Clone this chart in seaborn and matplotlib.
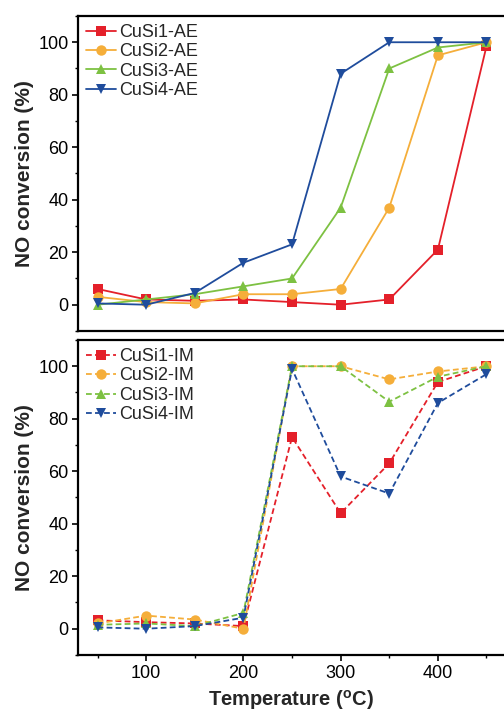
import numpy as np
import pandas as pd
import matplotlib
matplotlib.use("Agg")
import matplotlib.pyplot as plt
from matplotlib.ticker import MultipleLocator
import seaborn as sns

# Reaction temperatures (°C)
temperature = [50, 100, 150, 200, 250, 300, 350, 400, 450]

# NO conversion (%) for catalysts prepared by ammonia evaporation (AE)
cusi1_ae = [6, 2, 1.5, 2, 1, 0, 2, 21, 98.5]
cusi2_ae = [3, 1, 0.5, 4, 4, 6, 37, 95, 100]
cusi3_ae = [0, 2, 4, 7, 10, 37, 90, 98, 100]
cusi4_ae = [0.5, 0, 4.5, 16, 23, 88, 100, 100, 100]

# NO conversion (%) for catalysts prepared by impregnation (IM)
cusi1_im = [3.2, 2.5, 2, 1, 73, 44, 63, 94, 100]
cusi2_im = [2, 5, 3.5, 0, 100, 100, 95, 98, 100]
cusi3_im = [1.5, 2, 1, 6, 100, 100, 86.5, 96, 100]
cusi4_im = [0.5, 0, 1, 4.2, 99, 58, 51.5, 86, 97]

ae_labels = ["CuSi1-AE", "CuSi2-AE", "CuSi3-AE", "CuSi4-AE"]
im_labels = ["CuSi1-IM", "CuSi2-IM", "CuSi3-IM", "CuSi4-IM"]

colors = ["#E4202A", "#F5AE3A", "#7DC142", "#1F4C9C"]
markers = ["s", "o", "^", "v"]

sns.set_theme(style="ticks")
plt.rcParams["font.family"] = ["Liberation Sans", "DejaVu Sans"]
plt.rcParams["mathtext.fontset"] = "custom"
plt.rcParams["mathtext.rm"] = "Liberation Sans:bold"
plt.rcParams["mathtext.bf"] = "Liberation Sans:bold"

fig = plt.figure(figsize=(5.04, 7.11), dpi=100)
ax_top = fig.add_axes([0.155, 0.5345, 0.845, 0.443])
ax_bot = fig.add_axes([0.155, 0.0788, 0.845, 0.443])


def draw_panel(ax, series, labels, dashed):
    frames = []
    for lab, vals in zip(labels, series):
        frames.append(pd.DataFrame({"Temperature": temperature,
                                    "Conversion": vals,
                                    "Sample": lab}))
    df = pd.concat(frames, ignore_index=True)
    for lab, col, mk in zip(labels, colors, markers):
        sub = df[df["Sample"] == lab]
        sns.lineplot(data=sub, x="Temperature", y="Conversion", ax=ax,
                     color=col, marker=mk, markersize=7.5,
                     markeredgewidth=0, linewidth=1.3,
                     linestyle=(0, (3.2, 1.8)) if dashed else "-",
                     label=lab)
    ax.set_xlim(30, 468)
    ax.set_ylim(-10, 110)
    ax.yaxis.set_major_locator(MultipleLocator(20))
    ax.yaxis.set_minor_locator(MultipleLocator(10))
    ax.xaxis.set_major_locator(MultipleLocator(100))
    ax.xaxis.set_minor_locator(MultipleLocator(50))
    for side in ["top", "left", "bottom"]:
        ax.spines[side].set_linewidth(1.6)
        ax.spines[side].set_color("black")
    ax.spines["right"].set_visible(False)
    ax.tick_params(axis="both", which="major", direction="out", length=4.5,
                   width=1.2, labelsize=13, color="black", labelcolor="black",
                   pad=2.5)
    ax.tick_params(axis="both", which="minor", direction="out", length=2.5,
                   width=1.0, color="black")
    ax.set_ylabel("NO conversion (%)", fontsize=15, fontweight="bold",
                  labelpad=3)
    leg = ax.legend(loc="upper left", frameon=False, fontsize=13,
                    handlelength=1.65, handletextpad=0.15, labelspacing=0.13,
                    borderaxespad=0.2, borderpad=0.25)
    return leg


draw_panel(ax_top, [cusi1_ae, cusi2_ae, cusi3_ae, cusi4_ae], ae_labels, False)
draw_panel(ax_bot, [cusi1_im, cusi2_im, cusi3_im, cusi4_im], im_labels, True)

ax_top.set_xlabel("")
ax_top.tick_params(axis="x", which="both", bottom=False, labelbottom=False)
ax_bot.set_xlabel(r"Temperature ($^{\mathrm{o}}$C)", fontsize=14.5,
                  fontweight="bold", labelpad=4.5)

fig.savefig("out.png", dpi=100)
